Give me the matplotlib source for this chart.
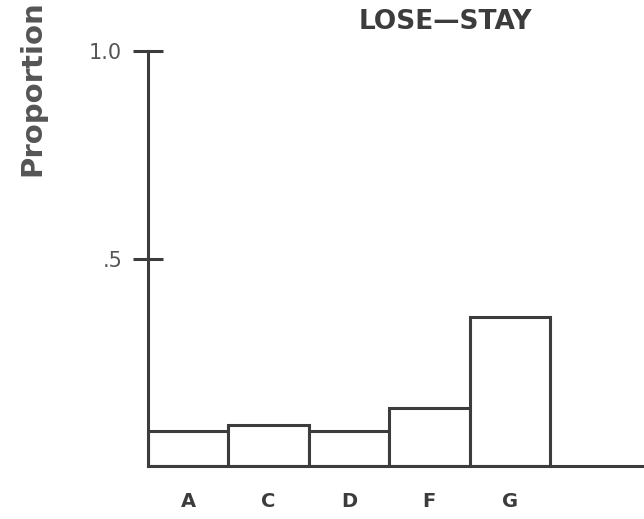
import matplotlib
matplotlib.use('Agg')
import matplotlib.pyplot as plt

plt.rcParams['font.family'] = 'DejaVu Sans'

categories = ['A', 'C', 'D', 'F', 'G']
proportion = [0.085, 0.10, 0.085, 0.14, 0.36]
yticks = [0.5, 1.0]
ytick_labels = ['.5', '1.0']
title = 'LOSE\u2014STAY'
ylabel = 'Proportion'

ink = '#3c3c3c'

fig = plt.figure(figsize=(6.44, 5.19), dpi=100)
ax = fig.add_axes([0.2298, 0.1021, 0.7702, 0.7996])

x = list(range(len(categories)))
ax.bar([i + 0.5 for i in x], proportion, width=1.0, color='white',
       edgecolor=ink, linewidth=2.2)

ax.set_xlim(0, 6.17)
ax.set_ylim(0, 1.0)

for s in ['top', 'right']:
    ax.spines[s].set_visible(False)
for s in ['left', 'bottom']:
    ax.spines[s].set_color(ink)
    ax.spines[s].set_linewidth(2.2)

ax.set_xticks([i + 0.5 for i in x])
ax.set_xticklabels(categories, fontsize=14, color=ink, fontweight='bold')
ax.tick_params(axis='x', length=0, pad=19)

ax.set_yticks(yticks)
ax.set_yticklabels(ytick_labels, fontsize=15, color='#555555')
ax.tick_params(axis='y', direction='inout', length=21, width=2.2,
               color=ink, pad=8)

fig.text(0.691, 0.957, title, fontsize=19, color=ink, ha='center',
         va='center', fontweight='bold')
fig.text(0.051, 0.661, ylabel, fontsize=21, color='#555555', rotation=90,
         ha='center', va='bottom', fontweight='bold')

fig.savefig('out.png', dpi=100)
plt.close(fig)
